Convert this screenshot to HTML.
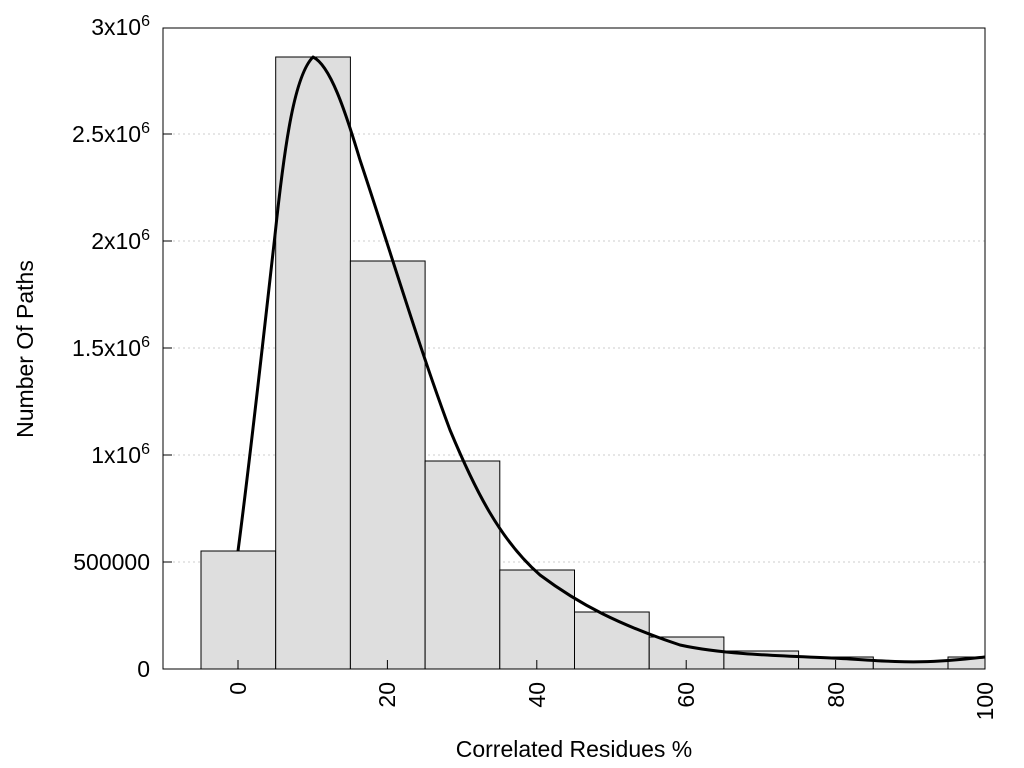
<!DOCTYPE html>
<html><head><style>body{margin:0;background:#fff}svg{display:block}</style></head><body>
<svg width="1024" height="768" xmlns="http://www.w3.org/2000/svg" font-family="Liberation Sans, sans-serif" font-size="23" fill="#000">
<g stroke="#ccc" stroke-width="1" stroke-dasharray="2,3">
<line x1="163" x2="985" y1="562" y2="562"/><line x1="163" x2="985" y1="455" y2="455"/>
<line x1="163" x2="985" y1="348" y2="348"/><line x1="163" x2="985" y1="241" y2="241"/>
<line x1="163" x2="985" y1="134" y2="134"/>
</g>
<g fill="#dedede" stroke="#000" stroke-width="1">
<rect x="201" y="551" width="74.7" height="118"/>
<rect x="275.7" y="57" width="74.7" height="612"/>
<rect x="350.4" y="261" width="74.7" height="408"/>
<rect x="425.1" y="461" width="74.7" height="208"/>
<rect x="499.8" y="570" width="74.7" height="99"/>
<rect x="574.5" y="612" width="74.7" height="57"/>
<rect x="649.2" y="637" width="74.7" height="32"/>
<rect x="723.9" y="651" width="74.7" height="18"/>
<rect x="798.6" y="657" width="74.7" height="12"/>
<rect x="873.3" y="661" width="74.7" height="8"/>
<rect x="948" y="657" width="37" height="12"/>
</g>
<path fill="none" stroke="#000" stroke-width="3" stroke-linejoin="round" d="M238,551 C250,460 262,350 275,235 C285,140 295,75 313,57 C330,65 345,110 360,160 C390,250 420,350 450,430 C475,490 500,540 540,575 C580,605 620,625 680,645 C730,656 800,656 850,659 C880,661 910,663 940,661 C960,660 975,658 985,657"/>
<rect x="163" y="28" width="822" height="641" fill="none" stroke="#000" stroke-width="1"/>
<g stroke="#000">
<line x1="238" x2="238" y1="669" y2="660"/><line x1="387.4" x2="387.4" y1="669" y2="660"/>
<line x1="536.8" x2="536.8" y1="669" y2="660"/><line x1="686.2" x2="686.2" y1="669" y2="660"/>
<line x1="835.6" x2="835.6" y1="669" y2="660"/>
<line x1="163" x2="172" y1="562" y2="562"/><line x1="163" x2="172" y1="455" y2="455"/>
<line x1="163" x2="172" y1="348" y2="348"/><line x1="163" x2="172" y1="241" y2="241"/>
<line x1="163" x2="172" y1="134" y2="134"/>
</g>
<g text-anchor="end">
<text x="150" y="677">0</text>
<text x="150" y="570">500000</text>
<text x="150" y="463">1x10<tspan dy="-9" font-size="16">6</tspan></text>
<text x="150" y="356">1.5x10<tspan dy="-9" font-size="16">6</tspan></text>
<text x="150" y="249">2x10<tspan dy="-9" font-size="16">6</tspan></text>
<text x="150" y="142">2.5x10<tspan dy="-9" font-size="16">6</tspan></text>
<text x="150" y="35">3x10<tspan dy="-9" font-size="16">6</tspan></text>
<text transform="translate(246,682) rotate(-90)">0</text>
<text transform="translate(395,682) rotate(-90)">20</text>
<text transform="translate(545,682) rotate(-90)">40</text>
<text transform="translate(694,682) rotate(-90)">60</text>
<text transform="translate(844,682) rotate(-90)">80</text>
<text transform="translate(993,682) rotate(-90)">100</text>
</g>
<text x="574" y="757" text-anchor="middle">Correlated Residues %</text>
<text transform="translate(33,349) rotate(-90)" text-anchor="middle">Number Of Paths</text>
</svg>
</body></html>
